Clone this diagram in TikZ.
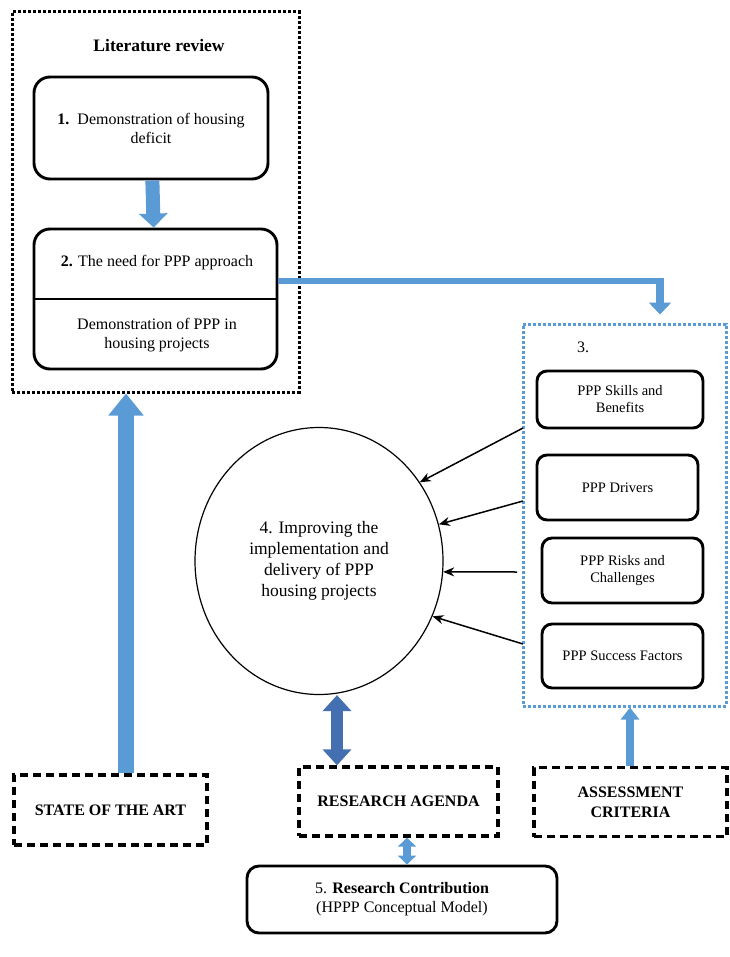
\documentclass[tikz,border=0pt]{standalone}
\usepackage{fontspec}
\setmainfont{Liberation Serif}
\usetikzlibrary{arrows.meta,shapes.geometric,positioning}
\definecolor{arrowblue}{RGB}{91,155,213}
\definecolor{deepblue}{RGB}{68,112,178}
\definecolor{dotblue}{RGB}{91,155,213}

\begin{document}
\begin{tikzpicture}[x=1pt,y=-1pt,
    txt/.style={font=\fontsize{16}{19}\selectfont, align=center},
    roundbox/.style={draw, line width=2.9pt, rounded corners=16pt, inner sep=0pt},
    critbox/.style={draw, line width=2.9pt, rounded corners=10pt, align=center,
      inner sep=0pt, font=\fontsize{14.5}{17}\selectfont},
    dashbox/.style={draw, line width=3.3pt, dash pattern=on 8pt off 5pt, align=center,
      inner sep=0pt, font=\bfseries\fontsize{16}{20}\selectfont},
    dotbox/.style={draw, line width=3pt, dash pattern=on 3pt off 2pt, inner sep=0pt},
    feed/.style={-{Stealth[length=11pt,width=9pt]}, line width=1.5pt},
  ]
    \useasboundingbox (0,0) rectangle (729,957);

    % Literature review block
    \node[dotbox, minimum width=287, minimum height=380] (lit) at (155.5,202) {};
    \node[font=\bfseries\fontsize{17.5}{20}\selectfont] (littitle) at (159,46)
      {Literature review};
    \node[roundbox, txt, minimum width=234, minimum height=102] (need1) at (151,128)
      {\textbf{1.}\ \ Demonstration of housing\\deficit};
    \node[roundbox, minimum width=243, minimum height=140] (need2) at (155.5,299) {};
    \draw[line width=2.9pt] (need2.west) -- (need2.east);
    \node[txt] (need2a) at (157,263) {\textbf{2.} The need for PPP approach};
    \node[txt] (need2b) at (157,335) {Demonstration of PPP in\\housing projects};
    \draw[arrowblue, line width=14pt, -{Triangle[length=14pt,width=28pt]}]
      (need1) -- (need2);

    % Assessment criteria group
    \node[dotbox, draw=dotblue, minimum width=203, minimum height=382] (grp3) at (624.5,515) {};
    \node[txt] (grp3lab) at (583,347) {3.};
    \node[critbox, minimum width=166, minimum height=57] (skills) at (620,399.5)
      {PPP Skills and\\Benefits};
    \node[critbox, minimum width=161, minimum height=65] (drivers) at (617.5,487.5)
      {PPP Drivers};
    \node[critbox, minimum width=161, minimum height=65] (risks) at (622.5,570.5)
      {PPP Risks and\\Challenges};
    \node[critbox, minimum width=161, minimum height=64] (success) at (622.5,656)
      {PPP Success Factors};

    % Link from the literature to the criteria
    \coordinate (bend) at (664,281);
    \draw[arrowblue, line width=6pt] ([yshift=18pt]need2.east) -- (bend);
    \draw[arrowblue, line width=8pt, -{Triangle[length=12pt,width=22pt]}, shorten >=8pt]
      ([xshift=-4pt,yshift=3pt]bend) -- ([xshift=-4pt]bend |- grp3.north);

    % Central goal
    \node[ellipse, draw, line width=1.2pt, minimum width=248, minimum height=267,
      inner sep=0pt, align=center, font=\fontsize{17.5}{21}\selectfont] (goal) at (319,561)
      {4. Improving the\\implementation and\\delivery of PPP\\housing projects};
    \coordinate (f1) at (523,428);
    \coordinate (f2) at (523,501);
    \coordinate (f3) at (517,572);
    \coordinate (f4) at (523,644);
    \draw[feed] (f1) -- (goal.38);
    \draw[feed] (f2) -- (goal.17);
    \draw[feed] (f3) -- (goal.-5);
    \draw[feed] (f4) -- (goal.-26);

    % Bottom row
    \node[dashbox, minimum width=193, minimum height=70] (sota) at (110.5,810)
      {STATE OF THE ART};
    \node[dashbox, minimum width=199, minimum height=69] (agenda) at (398.5,801.5)
      {RESEARCH AGENDA};
    \node[dashbox, minimum width=193, minimum height=69] (assess) at (630.5,802)
      {ASSESSMENT\\CRITERIA};
    \node[roundbox, rounded corners=12pt, txt, minimum width=310, minimum height=67]
      (contrib) at (402,899.5)
      {5. \textbf{Research Contribution}\\(HPPP Conceptual Model)};

    \draw[arrowblue, line width=16pt, -{Triangle[length=22pt,width=34pt]}]
      ([xshift=15.5pt]sota.north) -- ([xshift=15.5pt]sota.north |- lit.south);
    \draw[deepblue, line width=12pt,
      {Triangle[length=16pt,width=28pt]}-{Triangle[length=16pt,width=28pt]}]
      ([xshift=-61.5pt]agenda.north) -- ([xshift=-61.5pt]agenda.north |- goal.south);
    \draw[arrowblue, line width=8pt, -{Triangle[length=12pt,width=18pt]}]
      ([xshift=-0.5pt]assess.north) -- ([xshift=-0.5pt]assess.north |- grp3.south);
    \draw[arrowblue, line width=8pt,
      {Triangle[length=9pt,width=18pt]}-{Triangle[length=9pt,width=18pt]}]
      ([xshift=8.5pt]agenda.south) -- ([xshift=8.5pt]agenda.south |- contrib.north);
  \end{tikzpicture}
\end{document}
